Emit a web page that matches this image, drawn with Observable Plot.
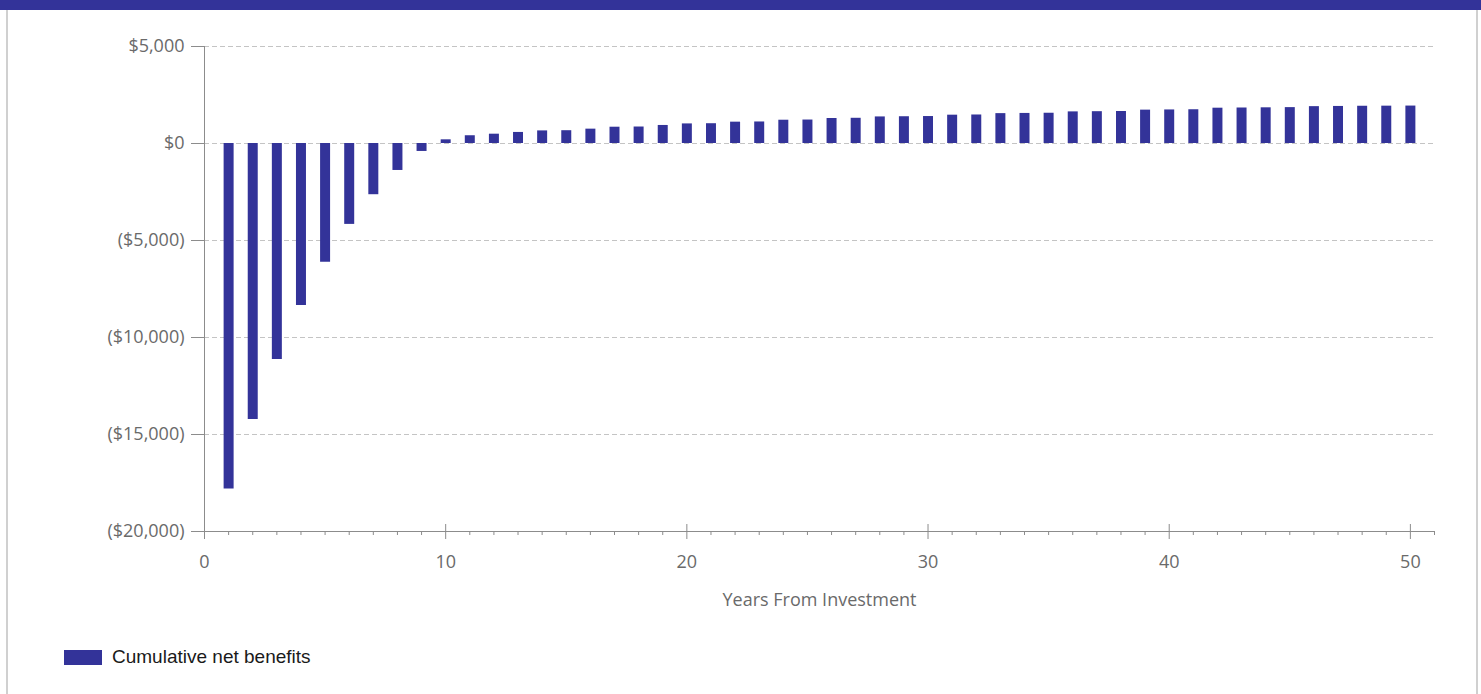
<!DOCTYPE html>
<html><head><meta charset="utf-8">
<script src="https://cdn.jsdelivr.net/npm/d3@7"></script>
<script src="https://cdn.jsdelivr.net/npm/@observablehq/plot@0.6"></script>
<style>
html,body{margin:0;padding:0;background:#fff;}
#wrap{position:relative;width:1481px;height:694px;overflow:hidden;}
#topbar{position:absolute;left:0;top:0;width:1481px;height:10px;background:#333399;}
#lb{position:absolute;left:6px;top:10px;width:2px;height:684px;background:#d0d0d0;}
#rb{position:absolute;left:1476px;top:10px;width:2px;height:684px;background:#d0d0d0;}
#chart{position:absolute;left:0;top:0;}
#legend{position:absolute;left:64px;top:646px;display:flex;align-items:center;font-family:"Liberation Sans",Arial,sans-serif;font-size:19px;color:#1a1a1a;}
#legend .sw{display:inline-block;width:38px;height:15px;background:#333399;margin-right:10px;}
</style></head>
<body><div id="wrap"><div id="chart"></div><div id="topbar"></div><div id="lb"></div><div id="rb"></div><div id="legend"><span class="sw"></span><span id="legendText"></span></div></div>
<script>
const years = [1,2,3,4,5,6,7,8,9,10,11,12,13,14,15,16,17,18,19,20,21,22,23,24,25,26,27,28,29,30,31,32,33,34,35,36,37,38,39,40,41,42,43,44,45,46,47,48,49,50];
const netBenefits = [-17810,-14230,-11130,-8350,-6120,-4170,-2640,-1390,-410,190,
  400,480,570,650,660,740,840,850,930,1010,
  1020,1100,1110,1200,1210,1290,1300,1370,1380,1390,
  1460,1470,1540,1550,1560,1630,1640,1650,1720,1730,
  1740,1820,1830,1840,1850,1900,1910,1920,1925,1930];
const yTicks = [5000,0,-5000,-10000,-15000,-20000];
const xMajorTicks = [0,10,20,30,40,50];
const xMinorTicks = d3.range(0,52).filter(d => d % 10 !== 0);
const xDomain = [0,51];
const yDomain = [-20000,5000];
const seriesName = "Cumulative net benefits";
const xTitle = "Years From Investment";
const barColor = "#333399";
const axisColor = "#8c8c8c";
const textColor = "#6a6a6a";

const data = years.map((year, i) => ({year, value: netBenefits[i]}));
const fmt = v => v < 0 ? `($${d3.format(",")(-v)})` : `$${d3.format(",")(v)}`;
const font = '"Open Sans", "Noto Sans", sans-serif';

document.getElementById("legendText").textContent = seriesName;

const plot = Plot.plot({
  width: 1481, height: 625,
  marginTop: 46, marginBottom: 94, marginLeft: 204, marginRight: 47,
  style: {fontFamily: font, fontSize: "18px", background: "transparent", overflow: "visible"},
  x: {domain: xDomain},
  y: {domain: yDomain},
  marks: [
    Plot.gridY({ticks: yTicks.filter(d => d !== yDomain[0]), stroke: "#c4c4c4", strokeOpacity: 1, strokeDasharray: "5,3"}),
    Plot.ruleX(data, {x: "year", y1: 0, y2: "value", stroke: barColor, strokeWidth: 10}),
    Plot.ruleX([xDomain[0]], {stroke: axisColor}),
    Plot.ruleY([yDomain[0]], {stroke: axisColor}),
    Plot.axisY({ticks: yTicks, tickFormat: fmt, tickSize: 13, tickPadding: 7, stroke: axisColor, color: textColor, label: null}),
    Plot.axisX({ticks: xMajorTicks, tickSize: 8, tickPadding: 16, stroke: axisColor, color: textColor,
      label: xTitle, labelAnchor: "center", labelArrow: "none", labelOffset: 74}),
    Plot.ruleX(xMajorTicks, {x: d => d, y1: yDomain[0], y2: yDomain[0], insetTop: -7, stroke: axisColor}),
    Plot.axisX({ticks: xMinorTicks, tickSize: 4, tickFormat: () => "", stroke: axisColor, label: null})
  ]
});
document.getElementById("chart").appendChild(plot);
</script>
</body></html>
